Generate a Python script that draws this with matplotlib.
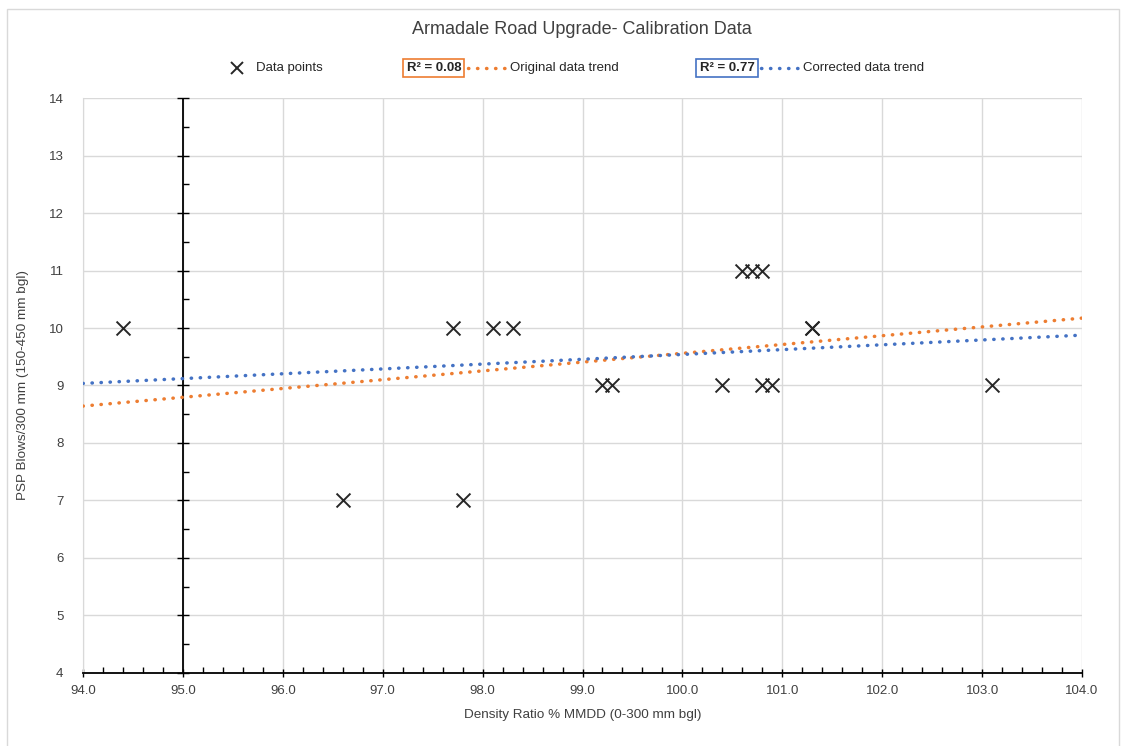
import numpy as np
import matplotlib.pyplot as plt
from matplotlib.lines import Line2D
from matplotlib.patches import Rectangle

plt.rcParams['font.family'] = ['Liberation Sans Narrow', 'Liberation Sans', 'DejaVu Sans']

# Field calibration readings
density_ratio = [94.4, 96.6, 97.7, 97.8, 98.1, 98.3, 99.2, 99.3, 100.4,
                 100.6, 100.7, 100.8, 100.8, 100.9, 101.3, 101.3, 103.1]
psp_blows = [10, 7, 10, 7, 10, 10, 9, 9, 9,
             11, 11, 11, 9, 9, 10, 10, 9]

# Linear trend coefficients (slope, intercept)
original_trend = (0.153, -5.74)
corrected_trend = (0.084, 1.14)
r2_original = 0.08
r2_corrected = 0.77

x_ticks = np.arange(94, 104.1, 1.0)
y_ticks = np.arange(4, 15, 1)

ORANGE = '#ED7D31'
BLUE = '#4472C4'
DOTS = (0, (0.1, 2.5))

fig = plt.figure(figsize=(11.23, 7.46), dpi=100)
ax = fig.add_axes([0.0739, 0.0979, 0.8896, 0.7707])

fig.add_artist(Rectangle((0.006, -0.01), 0.99, 0.998, transform=fig.transFigure,
                         fill=False, edgecolor='#d9d9d9', lw=1))

ax.set_xlim(94, 104)
ax.set_ylim(4, 14)
ax.set_xticks(x_ticks)
ax.set_xticklabels([f'{v:.1f}' for v in x_ticks])
ax.set_xticks(np.arange(94, 104.01, 0.2), minor=True)
ax.set_yticks(y_ticks)
ax.grid(True, which='major', color='#d9d9d9', lw=1)
ax.set_axisbelow(True)

for s in ['top', 'right']:
    ax.spines[s].set_visible(False)
ax.spines['left'].set_color('#d9d9d9')
ax.spines['bottom'].set_color('black')
ax.spines['bottom'].set_linewidth(1.3)
ax.tick_params(axis='y', length=0, labelsize=9.5, colors='#404040', pad=14)
ax.tick_params(axis='x', which='major', direction='inout', length=6, width=1,
               labelsize=9.5, labelcolor='#404040', pad=6)
ax.tick_params(axis='x', which='minor', direction='in', length=4, width=1)

# vertical axis crossing at 95
ax.axvline(95, color='black', lw=1.3, zorder=2)
ax.plot([95] * len(y_ticks), y_ticks, ls='none', marker='_', ms=8, mew=1,
        color='black', zorder=2, clip_on=False)
ax.plot([95] * (len(y_ticks) - 1), y_ticks[:-1] + 0.5, ls='none', marker=1,
        ms=4, mew=1, color='black', zorder=2)

xs = np.array([94, 104])
for (m, b), c in [(original_trend, ORANGE), (corrected_trend, BLUE)]:
    ax.plot(xs, m * xs + b, color=c, lw=2.5, linestyle=DOTS,
            dash_capstyle='round', zorder=3)

ax.scatter(density_ratio, psp_blows, marker='x', s=100, color='#262626',
           linewidths=1.4, zorder=4)

ax.set_xlabel('Density Ratio % MMDD (0-300 mm bgl)', fontsize=9.7,
              color='#404040', labelpad=8)
ax.set_ylabel('PSP Blows/300 mm (150-450 mm bgl)', fontsize=9.7,
              color='#404040', labelpad=14)
fig.text(0.518, 0.961, 'Armadale Road Upgrade- Calibration Data',
         fontsize=13, color='#404040', ha='center', va='center')

# legend
ly = 0.909
fig.add_artist(Line2D([0.211], [ly], marker='x', ms=9, mew=1.4,
                      color='#262626', transform=fig.transFigure))
fig.text(0.228, ly, 'Data points', fontsize=9.5, color='#262626', va='center')

for x0, r2, c, name in [(0.362, r2_original, ORANGE, 'Original data trend'),
                        (0.623, r2_corrected, BLUE, 'Corrected data trend')]:
    fig.text(x0, ly, f'R² = {r2:.2f}', fontsize=9.5, fontweight='bold',
             color='#262626', va='center',
             bbox=dict(boxstyle='square,pad=0.25', fc='white', ec=c, lw=1.2))
    fig.add_artist(Line2D([x0 + 0.055, x0 + 0.091], [ly, ly], color=c, lw=2.5,
                          linestyle=DOTS, dash_capstyle='round',
                          transform=fig.transFigure))
    fig.text(x0 + 0.092, ly, name, fontsize=9.5, color='#262626', va='center')

fig.savefig('out.png', dpi=100)
